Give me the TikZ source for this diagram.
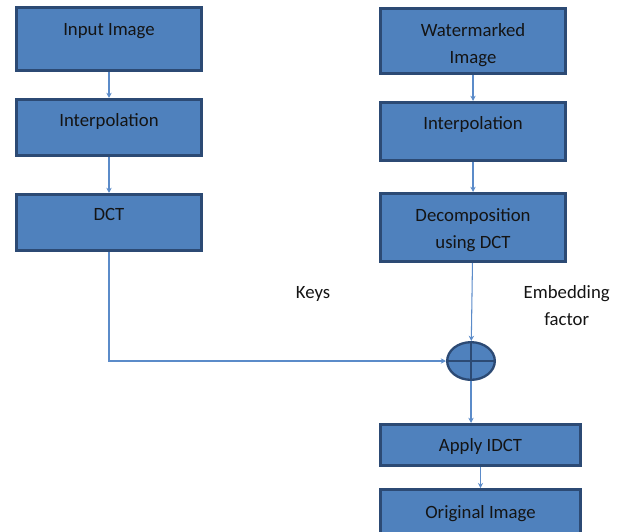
\documentclass[tikz,border=0pt]{standalone}
\usepackage{fontspec}
\setmainfont{Carlito}
\usetikzlibrary{arrows.meta,shapes.geometric}
\definecolor{wmFill}{HTML}{4F81BD}
\definecolor{wmEdge}{HTML}{2C4A74}
\definecolor{wmLink}{HTML}{5B8BC9}
\definecolor{wmInk}{HTML}{141414}
\tikzset{
  wm text/.style={font=\fontsize{16}{23}\selectfont, text=wmInk},
  wm box/.style={
    wm text,
    draw=wmEdge,
    fill=wmFill,
    line width=2.3pt,
    inner sep=0pt,
    align=center,
    minimum width=5.56cm,
    text height=12pt
  },
  wm sum/.style={
    ellipse,
    draw=wmEdge,
    fill=wmFill,
    line width=2pt,
    minimum width=1.43cm,
    minimum height=1.13cm,
    inner sep=0pt
  },
  wm cross/.style={draw=wmEdge, line width=2pt},
  wm link/.style={
    draw=wmLink,
    line width=.9pt,
    -{Stealth[length=4.5pt,width=4.5pt]}
  }
}

\begin{document}
\begin{tikzpicture}[x=.03cm,y=-.03cm]
  \path[use as bounding box] (0,0) rectangle (624,531);

  % left column
  \node[wm box, minimum height=1.9cm, text depth=18.8pt] (input) at (109,39) {Input Image};
  \node[wm box, minimum height=1.69cm, text depth=13.7pt] (interpL) at (109,127.5) {Interpolation};
  \node[wm box, minimum height=1.69cm, text depth=15.4pt] (dct) at (109,222.5) {DCT};

  % right column (two lines: height counts from the last line)
  \node[wm box, minimum height=1.96cm, text height=40pt, text depth=2.4pt] (marked) at (473,41) {Watermarked\\Image};
  \node[wm box, minimum height=1.75cm, text depth=14.6pt] (interpR) at (473,131.5) {Interpolation};
  \node[wm box, minimum height=2.05cm, text height=38pt, text depth=3pt] (decomp) at (473,227.5) {Decomposition\\using DCT};

  \node[wm sum] (sum) at (471,361) {};
  \draw[wm cross] (sum.north) -- (sum.south) (sum.west) -- (sum.east);

  \node[wm box, minimum width=6.01cm, minimum height=1.24cm, text depth=.5pt] (idct) at (480.5,445) {Apply IDCT};
  \node[wm box, minimum width=6.01cm, minimum height=1.32cm, text depth=0pt] (orig) at (480.5,511.5) {Original Image};

  \node[wm text] (keys) at (313,294) {Keys};
  \node[wm text, align=center] (factor) at (566.7,305.5) {Embedding\\factor};

  % connectors
  \draw[wm link] (input) -- (interpL);
  \draw[wm link] (interpL) -- (dct);
  \draw[wm link] (marked) -- (interpR);
  \draw[wm link] (interpR) -- (decomp);
  \draw[wm link] (decomp) -- (sum);
  \draw[wm link] (dct) |- (sum);
  \draw[wm link] (sum) -- (sum |- idct.north);
  \draw[wm link] (idct) -- (orig);
\end{tikzpicture}
\end{document}
